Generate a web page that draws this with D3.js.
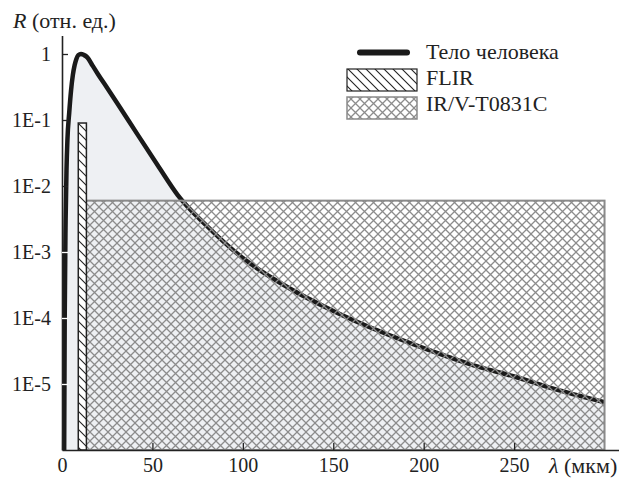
<!DOCTYPE html>
<html>
<head>
<meta charset="utf-8">
<script src="https://cdn.jsdelivr.net/npm/d3@7"></script>
<style>
  body { margin: 0; background: #fff; }
  svg { display: block; }
  text { font-family: "Liberation Serif", "Times New Roman", serif; fill: #222; }
</style>
</head>
<body>
<div id="chart"></div>
<script>
// curve (lambda in um, relative R)
const lambda = [1.2, 1.5, 2, 2.5, 3, 4, 5, 6, 7, 8, 9, 10.5, 12, 14, 17, 20, 25, 31, 42, 53, 64, 80, 100, 125, 150, 175, 200, 231, 250, 275, 300];
const bodyR = [1e-6, 1e-4, 3e-3, 0.018, 0.05, 0.13, 0.28, 0.48, 0.68, 0.85, 0.96, 1.0, 0.97, 0.89, 0.66, 0.49, 0.305, 0.172, 0.059, 0.0205, 0.0073, 2.5e-3, 8.1e-4, 2.9e-4, 1.28e-4, 6.4e-5, 3.5e-5, 1.8e-5, 1.3e-5, 8e-6, 5.3e-6];

// detector bands: [from, to, level]
const flirBand = [9, 13.5, 0.09];
const irBand = [13, 300, 0.006];

const xTicks = [0, 50, 100, 150, 200, 250];
const yTicks = [1, 1e-1, 1e-2, 1e-3, 1e-4, 1e-5];
const legendNames = ["Тело человека", "FLIR", "IR/V-T0831C"];

const width = 619, height = 479;

let svg = d3.select("#chart").append("svg")
    .attr("width", width)
    .attr("height", height);

let x = d3.scaleLinear().domain([0, 308]).range([62, 619]);
let y = d3.scaleLog().domain([1e-6, 1.9]).range([450, 35.6]);

// patterns
let defs = svg.append("defs");

let cross = defs.append("pattern")
    .attr("id", "cross")
    .attr("patternUnits", "userSpaceOnUse")
    .attr("width", 9).attr("height", 9);
cross.append("path")
    .attr("d", "M-1,-1L10,10M10,-1L-1,10")
    .attr("stroke", "#8c8c8c")
    .attr("stroke-width", 1.3)
    .attr("fill", "none");

let diag = defs.append("pattern")
    .attr("id", "diag")
    .attr("patternUnits", "userSpaceOnUse")
    .attr("width", 9).attr("height", 9);
diag.append("rect").attr("width", 9).attr("height", 9).attr("fill", "#fff");
diag.append("path")
    .attr("d", "M-1,-1L10,10M-2,7L2,11M7,-2L11,2")
    .attr("stroke", "#222")
    .attr("stroke-width", 1.1)
    .attr("fill", "none");

let pts = lambda.map((l, i) => [l, bodyR[i]]);

// light fill below the curve
svg.append("path")
    .datum(pts)
    .attr("fill", "#eef0f3")
    .attr("d", d3.area()
        .x(d => x(d[0]))
        .y0(y(1e-6))
        .y1(d => y(d[1]))
        .curve(d3.curveMonotoneX));

svg.append("path")
    .datum(pts)
    .attr("fill", "none")
    .attr("stroke", "#1a1a1a")
    .attr("stroke-width", 4.5)
    .attr("stroke-linejoin", "round")
    .attr("d", d3.line()
        .x(d => x(d[0]))
        .y(d => y(d[1]))
        .curve(d3.curveMonotoneX));

// IR/V-T0831C band
svg.append("rect")
    .attr("x", x(irBand[0]))
    .attr("y", y(irBand[2]))
    .attr("width", x(irBand[1]) - x(irBand[0]))
    .attr("height", y(1e-6) - y(irBand[2]))
    .attr("fill", "url(#cross)")
    .attr("stroke", "#8a8a8a")
    .attr("stroke-width", 2);

// FLIR band
svg.append("rect")
    .attr("x", x(flirBand[0]))
    .attr("y", y(flirBand[2]))
    .attr("width", x(flirBand[1]) - x(flirBand[0]))
    .attr("height", y(1e-6) - y(flirBand[2]))
    .attr("fill", "url(#diag)")
    .attr("stroke", "#222")
    .attr("stroke-width", 1.5);

// axes
let xaxis = svg.append("g")
    .attr("transform", "translate(0," + y(1e-6) + ")")
    .call(d3.axisBottom(x).tickValues(xTicks).tickSize(-7).tickSizeOuter(0).tickPadding(8));

let yaxis = svg.append("g")
    .attr("transform", "translate(" + x(0) + ",0)")
    .call(d3.axisLeft(y).tickValues(yTicks).tickSize(-6).tickSizeOuter(0).tickPadding(11)
        .tickFormat(d => d === 1 ? "1" : "1E-" + Math.round(-Math.log10(d))));

[xaxis, yaxis].forEach(a => {
    a.select(".domain").attr("stroke", "#222").attr("stroke-width", 1.6);
    a.selectAll(".tick line").attr("stroke", "#222").attr("stroke-width", 1.3);
    a.selectAll("text")
        .attr("font-family", "Liberation Serif, serif")
        .attr("font-size", 20)
        .attr("fill", "#222");
});
xaxis.selectAll(".tick").filter(d => d === 0).select("line").remove();
// ticks that sit on the black curve show white
yaxis.selectAll(".tick line").filter(d => d <= 1e-3).attr("stroke", "#fff");

// axis titles
let rl = svg.append("text").attr("x", 13).attr("y", 28).attr("font-size", 22);
rl.append("tspan").attr("font-style", "italic").text("R");
rl.append("tspan").text(" (отн. ед.)");

let ll = svg.append("text").attr("x", 549).attr("y", 473).attr("font-size", 22);
ll.append("tspan").attr("font-style", "italic").text("λ");
ll.append("tspan").text(" (мкм)");

// legend
let legend = svg.append("g");
legend.append("line")
    .attr("x1", 360).attr("x2", 407)
    .attr("y1", 52.5).attr("y2", 52.5)
    .attr("stroke", "#1a1a1a")
    .attr("stroke-width", 6)
    .attr("stroke-linecap", "round");
legend.append("rect")
    .attr("x", 347).attr("y", 69).attr("width", 70).attr("height", 22)
    .attr("fill", "url(#diag)").attr("stroke", "#222").attr("stroke-width", 1.2);
legend.append("rect")
    .attr("x", 347).attr("y", 97).attr("width", 70).attr("height", 22)
    .attr("fill", "url(#cross)").attr("stroke", "#8a8a8a").attr("stroke-width", 1.5);

legendNames.forEach((name, i) => {
    legend.append("text")
        .attr("x", 426)
        .attr("y", 59 + i * 26)
        .attr("font-size", 22)
        .text(name);
});
</script>
</body>
</html>
